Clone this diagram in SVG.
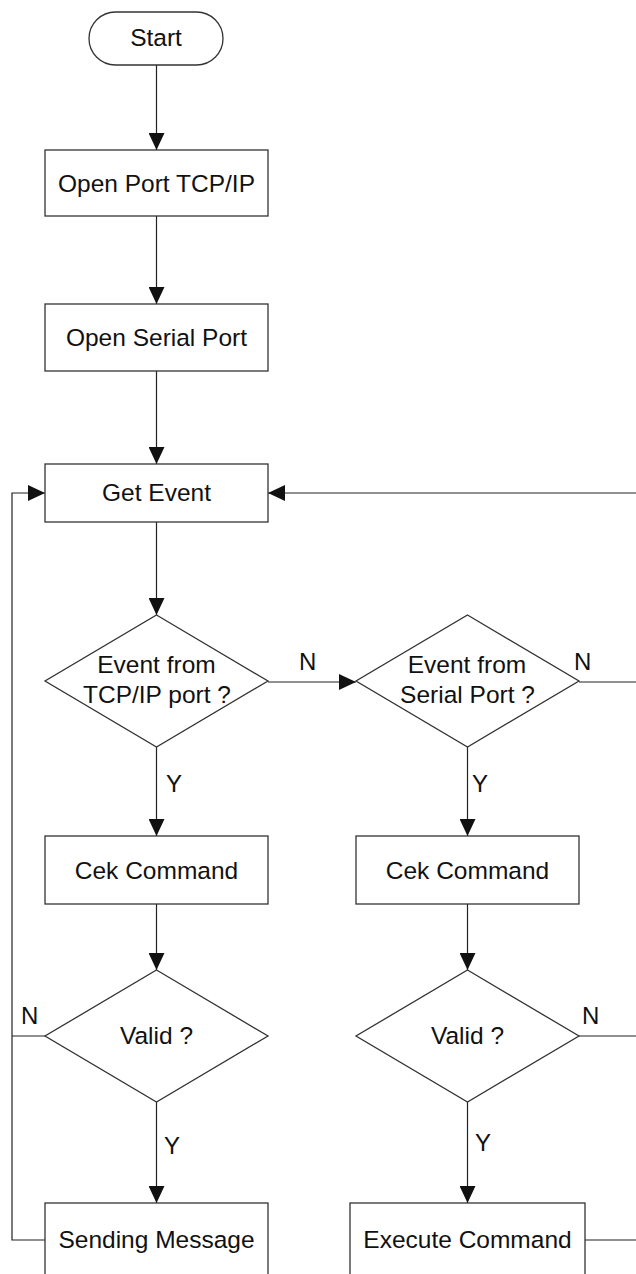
<svg xmlns="http://www.w3.org/2000/svg" width="636" height="1274" viewBox="0 0 636 1274">
<defs>
<marker id="arr" markerUnits="userSpaceOnUse" markerWidth="17" markerHeight="16" refX="17" refY="8" orient="auto">
<path d="M0,0 L17,8 L0,16 z" fill="#111"/>
</marker>
<style>
.shape{fill:#fff;stroke:#333;stroke-width:1.3}
.t{font-family:"Liberation Sans",Arial,sans-serif;font-size:24.5px;fill:#111;text-anchor:middle}
.lbl{font-family:"Liberation Sans",Arial,sans-serif;font-size:24px;fill:#111}
.c{fill:none;stroke:#222;stroke-width:1.2}
</style>
</defs>
<rect width="636" height="1274" fill="#fff"/>
<g id="connectors">
<path class="c" d="M156.5,65 V150" marker-end="url(#arr)"/>
<path class="c" d="M156.5,216 V304" marker-end="url(#arr)"/>
<path class="c" d="M156.5,371 V464" marker-end="url(#arr)"/>
<path class="c" d="M156.5,522 V615" marker-end="url(#arr)"/>
<path class="c" d="M268,682 H356" marker-end="url(#arr)"/>
<path class="c" d="M156.5,747 V836" marker-end="url(#arr)"/>
<path class="c" d="M467.5,747 V836" marker-end="url(#arr)"/>
<path class="c" d="M156.5,904 V970" marker-end="url(#arr)"/>
<path class="c" d="M467.5,904 V970" marker-end="url(#arr)"/>
<path class="c" d="M156.5,1102 V1203" marker-end="url(#arr)"/>
<path class="c" d="M467.5,1102 V1203" marker-end="url(#arr)"/>
<path class="c" d="M45,1036 H12"/>
<path class="c" d="M45,1240 H12 V493 H45" marker-end="url(#arr)"/>
<path class="c" d="M579,682 H640"/>
<path class="c" d="M579,1036 H640"/>
<path class="c" d="M585,1240 H640 V493 H268" marker-end="url(#arr)"/>
<text class="lbl" x="299" y="670">N</text>
<text class="lbl" x="574" y="670">N</text>
<text class="lbl" x="166" y="792">Y</text>
<text class="lbl" x="472" y="792">Y</text>
<text class="lbl" x="21" y="1024">N</text>
<text class="lbl" x="582" y="1024">N</text>
<text class="lbl" x="164" y="1154">Y</text>
<text class="lbl" x="475" y="1151">Y</text>
</g>
<g id="start">
<rect class="shape" x="89" y="12" width="134" height="53" rx="26.5"/>
<text class="t" x="156" y="46">Start</text>
</g>
<g id="open-tcp">
<rect class="shape" x="45" y="150" width="223" height="66"/>
<text class="t" x="156.5" y="192">Open Port TCP/IP</text>
</g>
<g id="open-serial">
<rect class="shape" x="45" y="304" width="223" height="67"/>
<text class="t" x="156.5" y="346">Open Serial Port</text>
</g>
<g id="get-event">
<rect class="shape" x="45" y="464" width="223" height="58"/>
<text class="t" x="156.5" y="501">Get Event</text>
</g>
<g id="tcp-decision">
<path class="shape" d="M156.5,615 L268,681 L156.5,747 L45,681 z"/>
<text class="t" x="156.5" y="673">Event from</text>
<text class="t" x="157" y="703">TCP/IP port ?</text>
</g>
<g id="serial-decision">
<path class="shape" d="M467.5,615 L579,681 L467.5,747 L356,681 z"/>
<text class="t" x="467" y="673">Event from</text>
<text class="t" x="467.5" y="703">Serial Port ?</text>
</g>
<g id="cek-left">
<rect class="shape" x="45" y="836" width="223" height="68"/>
<text class="t" x="156.5" y="879">Cek Command</text>
</g>
<g id="cek-right">
<rect class="shape" x="356" y="836" width="223" height="68"/>
<text class="t" x="467.5" y="879">Cek Command</text>
</g>
<g id="valid-left">
<path class="shape" d="M156.5,970 L268,1036 L156.5,1102 L45,1036 z"/>
<text class="t" x="156.5" y="1044">Valid ?</text>
</g>
<g id="valid-right">
<path class="shape" d="M467.5,970 L579,1036 L467.5,1102 L356,1036 z"/>
<text class="t" x="467.5" y="1044">Valid ?</text>
</g>
<g id="sending">
<rect class="shape" x="45" y="1203" width="223" height="80"/>
<text class="t" x="156.5" y="1248">Sending Message</text>
</g>
<g id="execute">
<rect class="shape" x="350" y="1203" width="235" height="80"/>
<text class="t" x="467.5" y="1248">Execute Command</text>
</g>
</svg>
